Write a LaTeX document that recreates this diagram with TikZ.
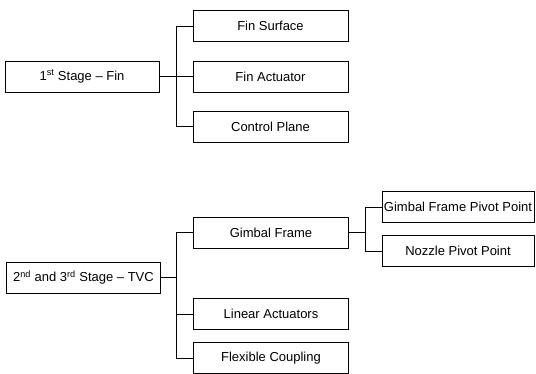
\documentclass[tikz,border=0pt]{standalone}
\usepackage{fontspec}
\setmainfont{Liberation Sans}
\usetikzlibrary{positioning}

\begin{document}
\begin{tikzpicture}[x=1pt,y=-1pt,
item/.style={draw=black,line width=0.9pt,minimum height=31pt,inner sep=0pt,font=\fontsize{13}{15}\selectfont},
root/.style={item,minimum width=154pt},
leaf/.style={item,minimum width=155pt},
sub/.style={item,minimum width=152pt},
link/.style={draw=black,line width=0.9pt}]
\useasboundingbox (0,0) rectangle (536,374);
% first stage
\node[root] (fin) at (82,76.5) {1\textsuperscript{st} Stage -- Fin};
\node[leaf] (surf) at (270.5,26) {Fin Surface};
\node[leaf] (act) at (270.5,76.5) {Fin Actuator};
\node[leaf] (plane) at (270.5,126.5) {Control Plane};
\coordinate (j1) at (176,76.5);
\draw[link] (fin.east) -- (j1);
\draw[link] (j1) |- (surf.west);
\draw[link] (j1) -- (act.west);
\draw[link] (j1) |- (plane.west);
% second and third stage
\node[root] (tvc) at (83.5,277.5) {2\textsuperscript{nd} and 3\textsuperscript{rd} Stage -- TVC};
\node[leaf] (gimbal) at (271,232.5) {Gimbal Frame};
\node[leaf] (linear) at (271,314) {Linear Actuators};
\node[leaf] (flex) at (271,358) {Flexible Coupling};
\coordinate (j2) at (176,277.5);
\draw[link] (tvc.east) -- (j2);
\draw[link] (j2) |- (gimbal.west);
\draw[link] (j2) |- (linear.west);
\draw[link] (j2) |- (flex.west);
% gimbal frame
\node[sub] (gpivot) at (458,207) {Gimbal Frame Pivot Point};
\node[sub] (npivot) at (458,251) {Nozzle Pivot Point};
\coordinate (j3) at (365,232.5);
\draw[link] (gimbal.east) -- (j3);
\draw[link] (j3) |- (gpivot.west);
\draw[link] (j3) |- (npivot.west);
\end{tikzpicture}
\end{document}
